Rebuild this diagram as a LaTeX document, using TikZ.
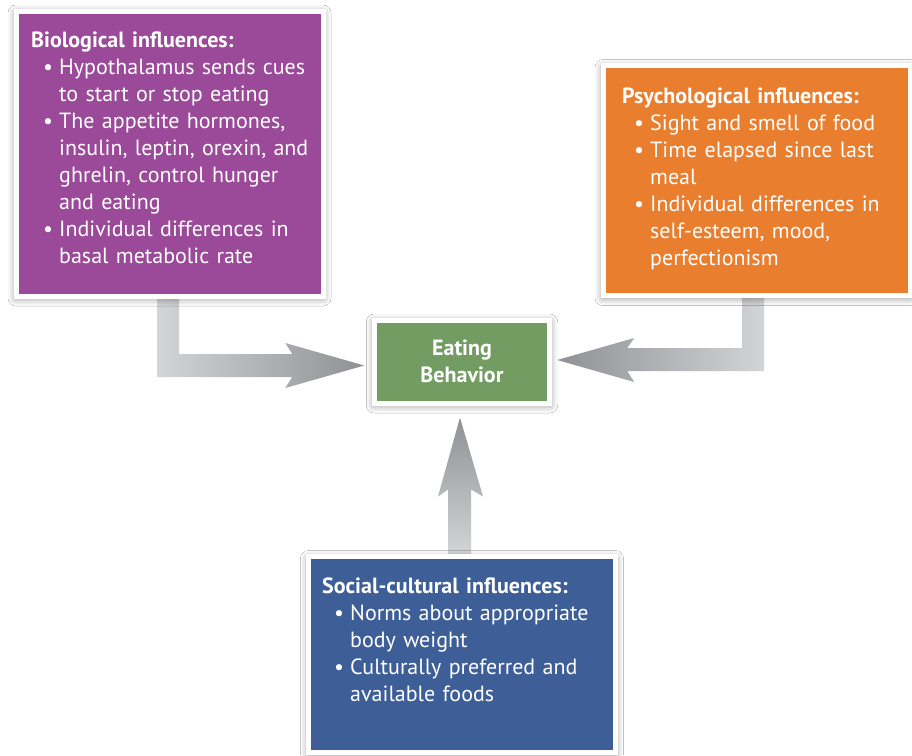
\documentclass[tikz,border=0pt]{standalone}
\usepackage{fontspec}
\setmainfont{PT Sans}
\usetikzlibrary{calc,backgrounds,shadows.blur}
\definecolor{biopurple}{HTML}{9A4A98}
\definecolor{psyorange}{HTML}{E97E2F}
\definecolor{eatgreen}{HTML}{739C62}
\definecolor{socblue}{HTML}{3D5E97}
\definecolor{arrowlight}{HTML}{D3D4D6}
\definecolor{arrowdark}{HTML}{8F9194}
\newcommand{\bul}{\hspace*{12pt}\makebox[16pt][l]{\textbullet}}
\newcommand{\cnt}{\hspace*{28pt}}

\begin{document}
\begin{tikzpicture}[x=1pt, y=-1pt,
    infbox/.style={rectangle, draw=white, line width=5pt, inner sep=0pt,
      blur shadow={shadow xshift=0pt, shadow yshift=-2pt, shadow blur radius=8pt, shadow opacity=50}},
    inftext/.style={anchor=base west, inner sep=0pt, text width=290pt, align=left,
      text=white, font=\fontsize{22}{27}\selectfont}]
    \useasboundingbox (0,0) rectangle (912,755);
    \node[infbox, fill=biopurple, minimum width=307pt, minimum height=285pt] (bio) at (169.5,153.5) {};
    \node[infbox, fill=psyorange, minimum width=307pt, minimum height=230pt] (psy) at (756.5,180.5) {};
    \node[infbox, fill=eatgreen, minimum width=175.5pt, minimum height=83pt, align=center,
      text=white, font=\fontsize{22}{27}\selectfont\bfseries] (eat) at (462,361.5) {Eating\\Behavior};
    \node[infbox, fill=socblue, minimum width=307pt, minimum height=196pt] (soc) at (462,654.5) {};
    \node[inftext] (biotext) at (31,47) {\textbf{Biological influences:}\\
      \bul Hypothalamus sends cues\\
      \cnt to start or stop eating\\
      \bul The appetite hormones,\\
      \cnt insulin, leptin, orexin, and\\
      \cnt ghrelin, control hunger\\
      \cnt and eating\\
      \bul Individual differences in\\
      \cnt basal metabolic rate};
    \node[inftext] (psytext) at (622,103) {\textbf{Psychological influences:}\\
      \bul Sight and smell of food\\
      \bul Time elapsed since last\\
      \cnt meal\\
      \bul Individual differences in\\
      \cnt self-esteem, mood,\\
      \cnt perfectionism};
    \node[inftext] (soctext) at (322,593) {\textbf{Social-cultural influences:}\\
      \bul Norms about appropriate\\
      \cnt body weight\\
      \bul Culturally preferred and\\
      \cnt available foods};
    % arrows under the boxes
    \begin{scope}[on background layer]
      \fill[white] (0,0) rectangle (912,755);
      \shade[left color=arrowlight, right color=arrowdark]
        ($(bio.south)+(-12.5,0)$) |- ($(eat.west)+(-79.5,15.5)$) -- ($(eat.west)+(-86.5,26.5)$)
        -- ($(eat.west)+(-7.5,4)$) -- ($(eat.west)+(-86.5,-18.5)$) -- ($(eat.west)+(-79.5,-7.5)$)
        -| ($(bio.south)+(9.5,0)$) -- cycle;
      \shade[left color=arrowdark, right color=arrowlight]
        ($(psy.south)+(7.5,0)$) |- ($(eat.east)+(75,9.5)$) -- ($(eat.east)+(82,20.5)$)
        -- ($(eat.east)+(5,-1.5)$) -- ($(eat.east)+(82,-23.5)$) -- ($(eat.east)+(75,-13.5)$)
        -| ($(psy.south)+(-14.5,0)$) -- cycle;
      \shade[top color=arrowdark, bottom color=arrowlight]
        ($(soc.north)+(-14,0)$) -- ($(eat.south)+(-14,84)$) -- ($(eat.south)+(-24,91)$)
        -- ($(eat.south)+(-2,12)$) -- ($(eat.south)+(21,91)$) -- ($(eat.south)+(9,84)$)
        -- ($(soc.north)+(9,0)$) -- cycle;
    \end{scope}
\end{tikzpicture}
\end{document}
